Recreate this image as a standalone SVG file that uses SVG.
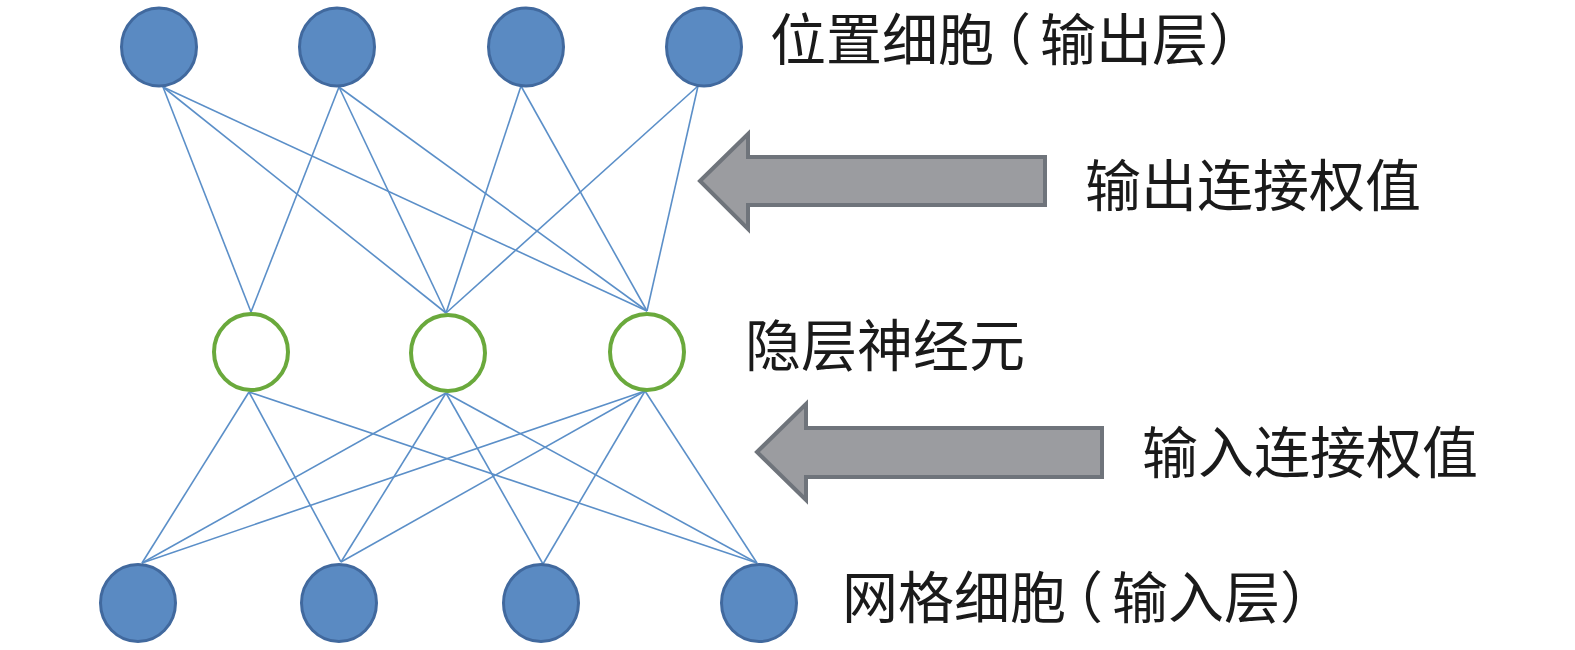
<svg xmlns="http://www.w3.org/2000/svg" width="1575" height="650" viewBox="0 0 1575 650">
<style>
.out{fill:#5a8ac2;stroke:#41699e;stroke-width:3}
.hid{fill:#ffffff;stroke:#6aa93c;stroke-width:4}
.ln{stroke:#5b8fc8;stroke-width:1.6;fill:none}
.arr{fill:#9b9ca0;stroke:#6f747b;stroke-width:4;stroke-linejoin:miter}
.lbl{font-family:"Noto Sans CJK SC","Noto Sans CJK TC",sans-serif;font-size:56px;font-weight:400;fill:#1a1a1a}
.halt{font-feature-settings:"halt" 1}
</style>
<rect width="1575" height="650" fill="#ffffff"/>
<g id="connectors">
<line class="ln" x1="163" y1="87" x2="251" y2="312"/>
<line class="ln" x1="163" y1="87" x2="446" y2="313"/>
<line class="ln" x1="163" y1="87" x2="647" y2="311"/>
<line class="ln" x1="339" y1="87" x2="251" y2="312"/>
<line class="ln" x1="339" y1="87" x2="446" y2="313"/>
<line class="ln" x1="339" y1="87" x2="647" y2="311"/>
<line class="ln" x1="521" y1="86" x2="446" y2="313"/>
<line class="ln" x1="521" y1="86" x2="647" y2="311"/>
<line class="ln" x1="698" y1="86" x2="446" y2="313"/>
<line class="ln" x1="698" y1="86" x2="647" y2="311"/>
<line class="ln" x1="249" y1="392" x2="142" y2="563"/>
<line class="ln" x1="249" y1="392" x2="341" y2="562"/>
<line class="ln" x1="249" y1="392" x2="757" y2="563"/>
<line class="ln" x1="446" y1="393" x2="142" y2="563"/>
<line class="ln" x1="446" y1="393" x2="341" y2="562"/>
<line class="ln" x1="446" y1="393" x2="543" y2="564"/>
<line class="ln" x1="446" y1="393" x2="757" y2="563"/>
<line class="ln" x1="645" y1="391" x2="142" y2="563"/>
<line class="ln" x1="645" y1="391" x2="341" y2="562"/>
<line class="ln" x1="645" y1="391" x2="543" y2="564"/>
<line class="ln" x1="645" y1="391" x2="757" y2="563"/>
</g>
<g id="out1"><ellipse class="out" cx="159" cy="47" rx="37.5" ry="39"/></g>
<g id="out2"><ellipse class="out" cx="337" cy="47" rx="37.5" ry="39"/></g>
<g id="out3"><ellipse class="out" cx="526" cy="47" rx="37.5" ry="39"/></g>
<g id="out4"><ellipse class="out" cx="704" cy="47" rx="37.5" ry="39"/></g>
<g id="hid1"><ellipse class="hid" cx="251" cy="352" rx="37" ry="38"/></g>
<g id="hid2"><ellipse class="hid" cx="448" cy="353" rx="37" ry="38"/></g>
<g id="hid3"><ellipse class="hid" cx="647" cy="352" rx="37" ry="38"/></g>
<g id="in1"><ellipse class="out" cx="138" cy="603" rx="37.5" ry="38.5"/></g>
<g id="in2"><ellipse class="out" cx="339" cy="603" rx="37.5" ry="38.5"/></g>
<g id="in3"><ellipse class="out" cx="541" cy="603" rx="37.5" ry="38.5"/></g>
<g id="in4"><ellipse class="out" cx="759" cy="603" rx="37.5" ry="38.5"/></g>
<g id="arrow-out"><polygon class="arr" points="700,181 748,134 748,157 1045,157 1045,205 748,205 748,229"/></g>
<g id="arrow-in"><polygon class="arr" points="757,452 806,404 806,428 1102,428 1102,477 806,477 806,500"/></g>
<g id="labels">
<text class="lbl halt" x="770" y="60">位置细胞<tspan dx="9">（</tspan><tspan dx="9">输出层</tspan>）</text>
<text class="lbl" x="1085" y="206">输出连接权值</text>
<text class="lbl" x="745" y="366">隐层神经元</text>
<text class="lbl" x="1142" y="473">输入连接权值</text>
<text class="lbl halt" x="842" y="618">网格细胞<tspan dx="9">（</tspan><tspan dx="9">输入层</tspan>）</text>
</g>
</svg>
